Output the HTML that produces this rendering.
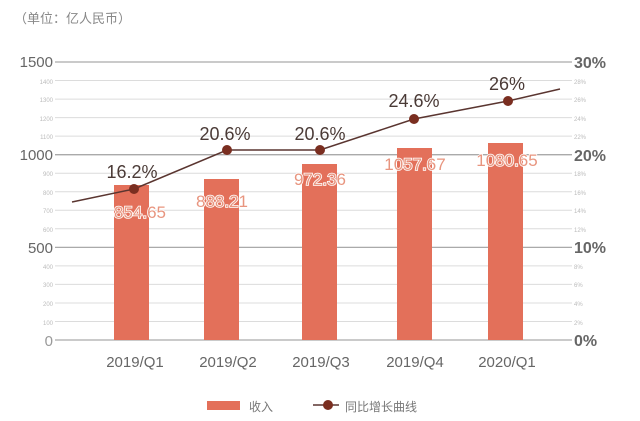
<!DOCTYPE html>
<html><head><meta charset="utf-8"><style>
html,body{margin:0;padding:0;background:#fff;width:640px;height:421px;overflow:hidden}
svg{display:block}
</style></head><body>
<svg width="640" height="421" viewBox="0 0 640 421" xmlns="http://www.w3.org/2000/svg" font-family="'Liberation Sans','Noto Sans CJK SC',sans-serif">
<text x="14" y="23" font-size="13" fill="#888">（单位：亿人民币）</text>
<g stroke="#dcdcdc" stroke-width="1">
<line x1="55" x2="572" y1="321.5" y2="321.5"/><line x1="55" x2="572" y1="303" y2="303"/><line x1="55" x2="572" y1="284.4" y2="284.4"/><line x1="55" x2="572" y1="265.9" y2="265.9"/>
<line x1="55" x2="572" y1="210.3" y2="210.3"/><line x1="55" x2="572" y1="228.8" y2="228.8"/><line x1="55" x2="572" y1="247.4" y2="247.4"/>
<line x1="55" x2="572" y1="191.8" y2="191.8"/>
<line x1="55" x2="572" y1="136.1" y2="136.1"/><line x1="55" x2="572" y1="117.6" y2="117.6"/><line x1="55" x2="572" y1="99.1" y2="99.1"/><line x1="55" x2="572" y1="80.5" y2="80.5"/>
<line x1="55" x2="572" y1="173.2" y2="173.2"/><line x1="55" x2="572" y1="154.7" y2="154.7"/>
</g>
<g stroke="#aaa" stroke-width="1.3">
<line x1="55" x2="572" y1="62" y2="62"/><line x1="55" x2="572" y1="154.7" y2="154.7"/><line x1="55" x2="572" y1="247.4" y2="247.4"/><line x1="55" x2="572" y1="340" y2="340"/>
</g>
<g font-size="15" fill="#666" text-anchor="end">
<text x="53" y="67">1500</text><text x="53" y="160">1000</text><text x="53" y="253">500</text><text x="53" y="346" fill="#999">0</text>
</g>
<g font-size="6" fill="#bbb" text-anchor="end">
<text x="53" y="84">1400</text><text x="53" y="102">1300</text><text x="53" y="121">1200</text><text x="53" y="139">1100</text>
<text x="53" y="176">900</text><text x="53" y="195">800</text><text x="53" y="213">700</text><text x="53" y="232">600</text>
<text x="53" y="269">400</text><text x="53" y="287">300</text><text x="53" y="306">200</text><text x="53" y="325">100</text>
</g>
<g font-size="16" font-weight="bold" fill="#666">
<text x="574" y="68">30%</text><text x="574" y="161">20%</text><text x="574" y="253">10%</text><text x="574" y="346">0%</text>
</g>
<g font-size="6" fill="#bbb">
<text x="574" y="84">28%</text><text x="574" y="102">26%</text><text x="574" y="121">24%</text><text x="574" y="139">22%</text>
<text x="574" y="176">18%</text><text x="574" y="195">16%</text><text x="574" y="213">14%</text><text x="574" y="232">12%</text>
<text x="574" y="269">8%</text><text x="574" y="287">6%</text><text x="574" y="306">4%</text><text x="574" y="325">2%</text>
</g>
<g fill="#e3705a">
<rect x="114" y="185" width="35" height="155"/>
<rect x="204" y="179" width="35" height="161"/>
<rect x="302" y="164" width="35" height="176"/>
<rect x="397" y="148" width="35" height="192"/>
<rect x="488" y="143" width="35" height="197"/>
</g>
<polyline points="72,202 134,189 227,150 320,150 414,119 508,101 560,89" fill="none" stroke="#5a3530" stroke-width="1.5"/>
<g fill="#7a2e20">
<circle cx="134" cy="189" r="5"/><circle cx="227" cy="150" r="5"/><circle cx="320" cy="150" r="5"/><circle cx="414" cy="119" r="5"/><circle cx="508" cy="101" r="5"/>
</g>
<g font-size="18" fill="#4a3a36" text-anchor="middle">
<text x="132" y="178">16.2%</text><text x="225" y="140">20.6%</text><text x="320" y="140">20.6%</text><text x="414" y="107">24.6%</text><text x="507" y="90">26%</text>
</g>
<g font-size="17" fill="#e8957f" stroke="#fff" stroke-width="1.6" paint-order="stroke" text-anchor="middle">
<text x="140" y="218">854.65</text><text x="222" y="207">888.21</text><text x="320" y="185">972.36</text><text x="415" y="170">1057.67</text><text x="507" y="166">1080.65</text>
</g>
<g font-size="15" fill="#666" text-anchor="middle">
<text x="135" y="367">2019/Q1</text><text x="228" y="367">2019/Q2</text><text x="321" y="367">2019/Q3</text><text x="415" y="367">2019/Q4</text><text x="507" y="367">2020/Q1</text>
</g>
<rect x="207" y="401" width="33" height="9" fill="#e3705a"/>
<text x="249" y="411" font-size="12" fill="#777">收入</text>
<line x1="313" x2="339" y1="405" y2="405" stroke="#5a3530" stroke-width="1.5"/>
<circle cx="328" cy="405" r="5" fill="#7a2e20"/>
<text x="345" y="411" font-size="12" fill="#777">同比增长曲线</text>
</svg>
</body></html>
